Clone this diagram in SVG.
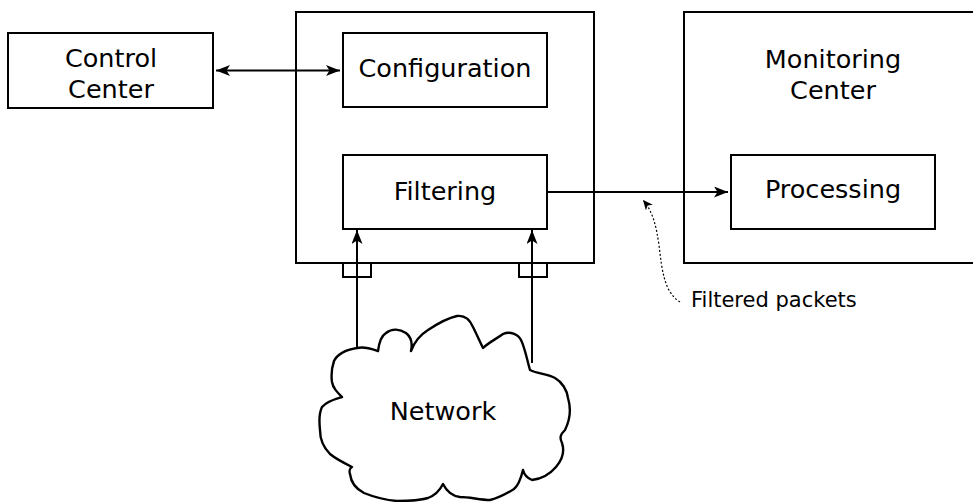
<svg xmlns="http://www.w3.org/2000/svg" width="973" height="502" viewBox="0 0 973 502">
  <style>
    .box { fill: #fff; stroke: #000; stroke-width: 2; }
    .cloud { fill: #fff; stroke: #000; stroke-width: 2.4; stroke-linejoin: round; }
    .port { fill: none; stroke: #000; stroke-width: 2; }
    .lbl { font-family: "DejaVu Sans", sans-serif; font-size: 25.5px; fill: #000; text-anchor: middle; }
    .small { font-family: "DejaVu Sans", sans-serif; font-size: 21px; fill: #000; }
    .wire { fill: none; stroke: #000; stroke-width: 2; }
    .dots { fill: none; stroke: #000; stroke-width: 1.2; stroke-dasharray: 2 2; }
  </style>
  <defs>
    <marker id="head" viewBox="0 0 14 11" refX="14" refY="5.5" markerWidth="14" markerHeight="11" markerUnits="userSpaceOnUse" orient="auto-start-reverse">
      <path d="M0,0 L14,5.5 L0,11 L3.5,5.5 Z" fill="#000"/>
    </marker>
    <marker id="headSmall" viewBox="0 0 10 9" refX="10" refY="4.5" markerWidth="10" markerHeight="9" markerUnits="userSpaceOnUse" orient="auto">
      <path d="M0,0 L10,4.5 L0,9 L3,4.5 Z" fill="#000"/>
    </marker>
  </defs>
  <rect width="973" height="502" fill="#fff"/>

  <g id="control-center">
    <rect class="box" x="8" y="33" width="205" height="75"/>
    <text class="lbl" x="111" y="66.5">Control</text>
    <text class="lbl" x="111" y="98">Center</text>
  </g>

  <g id="filter-unit">
    <rect class="box" x="296" y="12" width="298" height="251"/>
  </g>

  <g id="configuration">
    <rect class="box" x="343" y="33" width="204" height="74"/>
    <text class="lbl" x="445" y="77">Configuration</text>
  </g>

  <g id="filtering">
    <rect class="box" x="343" y="155" width="204" height="74"/>
    <text class="lbl" x="445" y="200">Filtering</text>
  </g>

  <g id="ports">
    <rect class="port" x="343" y="263" width="28" height="14"/>
    <rect class="port" x="519" y="263" width="28" height="14"/>
  </g>

  <g id="monitoring-center">
    <rect class="box" x="684" y="12" width="298" height="251"/>
    <text class="lbl" x="833" y="67.5">Monitoring</text>
    <text class="lbl" x="833" y="99">Center</text>
  </g>

  <g id="processing">
    <rect class="box" x="731" y="155" width="204" height="74"/>
    <text class="lbl" x="833" y="198">Processing</text>
  </g>

  <g id="network">
    <path class="cloud" d="M357,348 C365,346 372,349 378,351 C379,343 381,336 386,333 C392,328 400,329 406,333 C411,337 413,342 411,351 C414,343 420,335 428,330 C437,324 448,318 457,316 C465,315 470,320 473,327 C477,335 480,342 483,348 C488,343 496,339 503,334 C510,331 518,334 521,340 C525,348 527,360 530,370 C538,374 548,374 555,378 C562,382 567,390 568,398 C571,408 570,420 565,430 C561,434 559,437 562,443 C565,452 562,460 556,467 C550,474 541,479 532,480 C527,478 524,474 523,470 C521,478 519,485 514,489 C506,494 498,498 490,500 C480,500 470,497 460,497 C452,496 446,490 443,484 C440,490 436,495 428,498 C418,501 408,501 397,501 C385,500 374,497 364,493 C356,489 351,482 350,474 C349,471 350,468 352,467 C344,463 336,459 330,454 C324,448 320,440 320,430 C319,421 319,413 322,407 C327,401 335,399 342,397 C337,392 333,388 332,382 C331,375 332,367 334,361 C337,355 345,350 357,348 Z"/>
    <text class="lbl" x="443" y="420">Network</text>
  </g>

  <g id="connectors">
    <line class="wire" x1="216" y1="70.5" x2="340" y2="70.5" marker-start="url(#head)" marker-end="url(#head)"/>
    <line class="wire" x1="547" y1="192" x2="728" y2="192" marker-end="url(#head)"/>
    <line class="wire" x1="357" y1="348" x2="357" y2="230" marker-end="url(#head)"/>
    <line class="wire" x1="532" y1="363" x2="532" y2="230" marker-end="url(#head)"/>
    <path class="dots" d="M680,302 C664,292 662,270 659,245 C656,225 653,212 643,200" marker-end="url(#headSmall)"/>
  </g>

  <text class="small" x="691" y="307">Filtered packets</text>
</svg>
